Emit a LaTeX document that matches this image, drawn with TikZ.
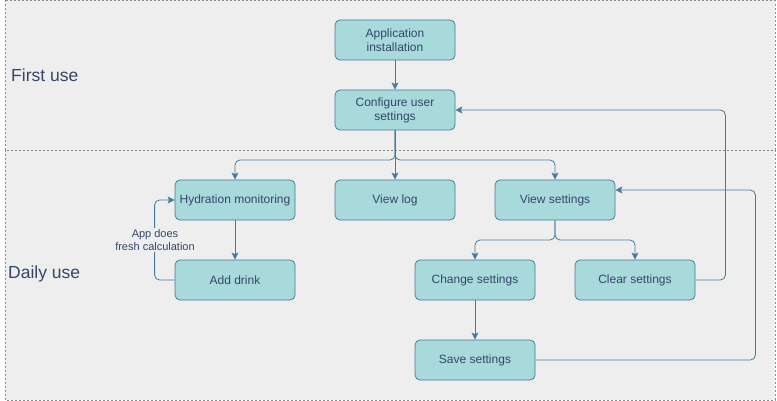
\documentclass[tikz,border=0pt]{standalone}
\usepackage{fontspec}
\setmainfont{Liberation Sans}
\usepackage{tikz}
\usetikzlibrary{arrows.meta}
\definecolor{boxfill}{HTML}{A8DADC}
\definecolor{boxline}{HTML}{457B9D}
\definecolor{boxtext}{HTML}{34466A}
\definecolor{lanefill}{HTML}{EEEEEE}

\begin{document}
\begin{tikzpicture}[x=1pt,y=-1pt,
		stepbox/.style={draw=boxline,fill=boxfill,line width=0.8pt,rounded corners=5pt,minimum width=120pt,minimum height=40pt,inner sep=2pt,align=center,text=boxtext,font=\fontsize{12}{14}\selectfont},
		flow/.style={draw=boxline,line width=0.8pt,rounded corners=5pt,-{Stealth[length=7pt,width=7pt,inset=1.5pt]}},
		lane/.style={draw=black!45,fill=lanefill,line width=0.6pt,dash pattern=on 2pt off 2pt},
		lanelabel/.style={anchor=west,inner sep=0pt,text=boxtext,font=\fontsize{17.5}{20}\selectfont}]
			\useasboundingbox (0,0) rectangle (777,401);
			\begin{scope}
				\draw[lane] (5,0.5) rectangle (775,150);
				\draw[lane] (5,150) rectangle (775,400);
				\node[lanelabel] (firstuse) at (11,75) {First use};
				\node[lanelabel] (dailyuse) at (8,274) {Daily use};
			\end{scope}
			\node[stepbox] (install) at (395,40) {Application\\installation};
			\node[stepbox] (config) at (395,110) {Configure user\\settings};
			\node[stepbox] (hydration) at (235,200) {Hydration monitoring};
			\node[stepbox] (viewlog) at (395,200) {View log};
			\node[stepbox] (viewset) at (555,200) {View settings};
			\node[stepbox] (drink) at (235,280) {Add drink};
			\node[stepbox] (change) at (475,280) {Change settings};
			\node[stepbox] (clear) at (635,280) {Clear settings};
			\node[stepbox] (save) at (475,360) {Save settings};
			\coordinate (split) at (395,160);
			\coordinate (setsplit) at (555,240);
			\draw[flow] (install) -- (config);
			\draw[flow] (config.south) -- (split) -| (hydration.north);
			\draw[flow] (config.south) -- (viewlog.north);
			\draw[flow] (config.south) -- (split) -| (viewset.north);
			\draw[flow] (hydration) -- (drink);
			\draw[flow] (drink.west) -- ++(-20,0) |- (hydration.west);
			\draw[flow] (viewset.south) -- (setsplit) -| (change.north);
			\draw[flow] (viewset.south) -- (setsplit) -| (clear.north);
			\draw[flow] (change) -- (save);
			\draw[flow] (clear.east) -- ++(30,0) |- (config.east);
			\draw[flow] (save.east) -- ++(220,0) |- ([yshift=10pt]viewset.east);
			\node[fill=lanefill,inner sep=1pt,align=center,text=boxtext,font=\fontsize{11}{13}\selectfont] (fresh) at (155,240) {App does\\fresh calculation};
		\end{tikzpicture}
\end{document}
